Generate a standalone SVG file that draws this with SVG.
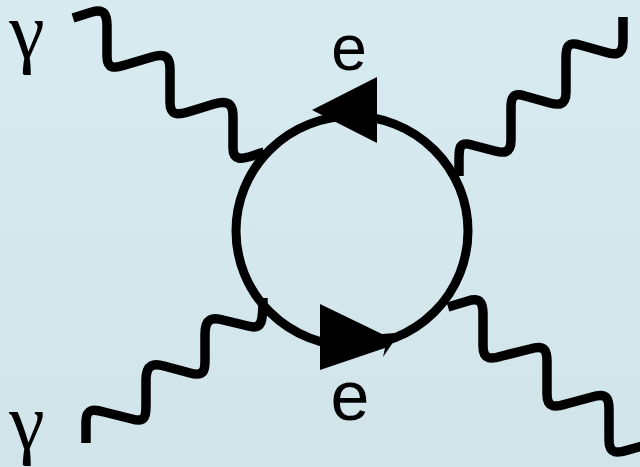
<svg xmlns="http://www.w3.org/2000/svg" width="640" height="467" viewBox="0 0 640 467">
<defs>
<linearGradient id="bg" x1="0" y1="0" x2="0" y2="1">
<stop offset="0" stop-color="#d8ebf1"/>
<stop offset="1" stop-color="#d0e4ea"/>
</linearGradient>
<style>
.wave{fill:none;stroke:#000;stroke-width:9.5;stroke-linecap:butt;stroke-linejoin:round}
.loop{fill:none;stroke:#000;stroke-width:9}
.arrow{fill:#000;stroke:none}
.gam{font-family:"Liberation Serif","DejaVu Serif",serif;fill:#000}
.lbl{font-family:"Liberation Sans",Arial,sans-serif;fill:#000}
</style>
</defs>
<rect width="640" height="467" fill="url(#bg)"/>
<g id="photons">
<path class="wave" d="M 73 18 L 92 12 C 105 8, 107 16, 107 26 L 107 56 C 107 70, 115 68, 125 65 L 152 57 C 168 52, 170 60, 170 70 L 170 102 C 170 116, 178 115, 188 112 L 214 104 C 231 99, 233 107, 233 117 L 233 148 C 233 161, 242 159, 252 156 L 264 152"/>
<path class="wave" d="M 86 443 L 86 422 C 86 408, 94 409, 104 412 L 132 419 C 146 423, 146 415, 146 405 L 146 380 C 146 364, 154 363, 164 366 L 190 373 C 205 377, 205 369, 205 360 L 205 334 C 205 318, 213 317, 223 320 L 248 326 C 262 330, 263 322, 263 298"/>
<path class="wave" d="M 623 17 L 623 42 C 623 56, 614 55, 605 52 L 580 45 C 567 41, 566 48, 566 58 L 566 92 C 566 106, 558 105, 550 103 L 525 96 C 512 92, 511 99, 511 108 L 511 140 C 511 154, 503 153, 495 151 L 472 145 C 459 141, 459 148, 459 160 L 459 176"/>
<path class="wave" d="M 448 307 L 468 301 C 481 297, 483 304, 483 314 L 483 346 C 483 361, 492 359, 502 356 L 530 349 C 546 344, 547 352, 547 362 L 547 394 C 547 409, 556 407, 566 404 L 592 397 C 608 392, 609 400, 609 410 L 609 440 C 609 455, 618 453, 628 450 L 642 446"/>
</g>
<g id="loop">
<ellipse class="loop" cx="352" cy="231" rx="116" ry="115"/>
<polygon class="arrow" points="312,110 377,77 377,143"/>
<polygon class="arrow" points="320,304 382,334 395,333 394,341 383,357 385,348 320,370"/>
</g>
<g id="labels">
<text class="gam" x="27" y="58" font-size="80" text-anchor="middle">γ</text>
<text class="gam" x="27" y="449" font-size="80" text-anchor="middle">γ</text>
<text class="lbl" x="349" y="70" font-size="64" text-anchor="middle">e</text>
<text class="lbl" x="350" y="420" font-size="70" text-anchor="middle">e</text>
</g>
</svg>
